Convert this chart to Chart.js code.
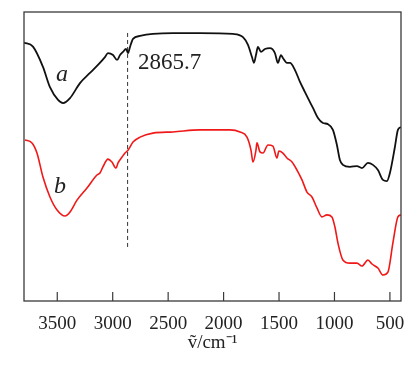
<!DOCTYPE html>
<html>
<head>
<meta charset="utf-8">
<script src="https://cdn.jsdelivr.net/npm/chart.js@4/dist/chart.umd.min.js"></script>
<style>
html,body{margin:0;padding:0;background:#fff;}
#wrap{width:418px;height:383px;position:relative;}
</style>
</head>
<body>
<div id="wrap"><canvas id="c" width="418" height="383"></canvas></div>
<script>
// Wavenumber (cm^-1) and transmittance-like values (arbitrary units, 0-100)
const waveA = [3800,3719,3629,3566,3493,3448,3385,3295,3205,3133,3070,3043,2997,2961,2934,2907,2880,2862,2844,2817,2754,2637,2456,2213,1915,1825,1780,1744,1726,1708,1690,1663,1627,1582,1537,1510,1483,1465,1429,1401,1356,1311,1266,1239,1194,1149,1104,1059,1014,978,951,924,860,797,752,698,653,608,563,527,500,455,428,401];
const transA = [89.4,88.0,81.0,74.0,69.6,68.5,70.2,75.4,78.9,81.7,84.4,85.8,85.1,83.4,85.1,86.2,87.2,85.8,87.9,90.7,91.7,92.4,92.7,92.7,92.4,91.3,88.6,84.4,82.4,85.1,87.9,86.2,87.2,87.5,85.8,82.4,85.1,84.1,82.4,82.4,79.9,75.8,72.3,70.2,66.8,63.3,61.6,61.2,59.2,54.0,48.8,47.1,46.4,46.7,46.0,47.8,47.1,45.3,41.9,41.5,44.3,53.3,59.2,60.2];
const waveB = [3791,3728,3683,3629,3566,3502,3430,3385,3322,3232,3142,3115,3088,3043,3007,2970,2952,2916,2889,2862,2817,2754,2637,2456,2213,1942,1852,1789,1753,1735,1708,1699,1672,1645,1600,1555,1519,1501,1465,1429,1383,1338,1293,1248,1203,1158,1113,1068,1023,996,969,924,860,797,752,698,662,608,563,518,473,428,401];
const transB = [55.7,54.7,51.2,42.9,36.0,31.5,29.4,30.8,34.9,39.1,43.6,44.3,46.4,49.1,48.1,46.0,47.8,49.8,51.2,52.2,55.0,56.7,58.1,58.5,59.2,59.2,58.5,56.7,52.2,48.1,52.2,54.7,51.6,51.2,54.0,53.6,49.5,51.9,51.2,49.5,48.1,45.3,41.9,37.7,36.0,32.2,29.1,29.8,29.1,25.6,20.1,14.2,13.1,13.1,12.1,14.2,12.8,11.4,9.0,10.0,20.1,29.1,29.8];
// Marker line at 2865.7 cm^-1
const markerWave = 2865.7;
const markerRange = [18.7, 93.1];
// Tick labels
const tickValues = [3500,3000,2500,2000,1500,1000,500];
// Text annotations: [text, wavenumber, value, italic]
const annotations = [
  ['2865.7', 2772, 82.4, false],
  ['a', 3457, 78.2, true],
  ['b', 3475, 39.4, true]
];

const toXY = (xs, ys) => xs.map((x, i) => ({x: x, y: ys[i]}));

const framePlugin = {
  id: 'frame',
  afterDraw(chart) {
    const {ctx, chartArea: a, scales} = chart;
    ctx.save();
    ctx.strokeStyle = '#3a3a3a';
    ctx.lineWidth = 1.3;
    ctx.strokeRect(a.left, a.top, a.right - a.left, a.bottom - a.top);
    ctx.lineWidth = 1.2;
    tickValues.forEach(v => {
      const px = scales.x.getPixelForValue(v);
      ctx.beginPath();
      ctx.moveTo(px, a.bottom);
      ctx.lineTo(px, a.bottom - 9);
      ctx.stroke();
    });
    ctx.fillStyle = '#222';
    ctx.textBaseline = 'middle';
    annotations.forEach(([t, xv, yv, it]) => {
      ctx.font = it ? 'italic 24px "Liberation Serif"' : '23px "Liberation Serif"';
      ctx.textAlign = it ? 'center' : 'left';
      ctx.fillText(t, scales.x.getPixelForValue(xv), scales.y.getPixelForValue(yv));
    });
    ctx.restore();
  }
};

new Chart(document.getElementById('c'), {
  type: 'line',
  data: {
    datasets: [
      {data: toXY(waveA, transA), borderColor: '#111', borderWidth: 1.8, pointRadius: 0, cubicInterpolationMode: 'monotone', fill: false},
      {data: toXY(waveB, transB), borderColor: '#f01818', borderWidth: 1.6, pointRadius: 0, cubicInterpolationMode: 'monotone', fill: false},
      {data: [{x: markerWave, y: markerRange[0]}, {x: markerWave, y: markerRange[1]}], borderColor: '#333', borderWidth: 1, borderDash: [4, 3], pointRadius: 0, fill: false}
    ]
  },
  options: {
    responsive: false,
    animation: false,
    events: [],
    layout: {padding: {left: 24, right: 17, top: 12, bottom: 0}},
    plugins: {legend: {display: false}, tooltip: {enabled: false}},
    scales: {
      x: {
        type: 'linear', reverse: true, min: 400, max: 3800,
        afterBuildTicks: s => { s.ticks = tickValues.map(v => ({value: v})); },
        afterFit: s => { s.height = 82; },
        grid: {display: false, drawTicks: false},
        border: {display: false},
        ticks: {font: {family: 'Liberation Serif', size: 19}, color: '#222', padding: 12, maxRotation: 0, autoSkip: false, callback: v => String(v)},
        title: {display: true, text: 'ṽ/cm⁻¹', font: {family: 'Liberation Serif', size: 19}, color: '#222', padding: {top: 0, bottom: 29}}
      },
      y: {display: false, min: 0, max: 100}
    }
  },
  plugins: [framePlugin]
});
</script>
</body>
</html>
